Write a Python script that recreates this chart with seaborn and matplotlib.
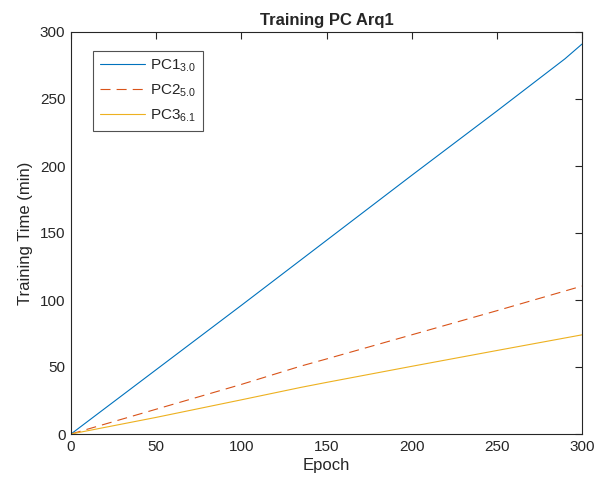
import pandas as pd
import numpy as np
import matplotlib.pyplot as plt
import seaborn as sns

# 数据（从图上读取的折线顶点）
pc1_epoch = [0, 50, 100, 150, 200, 250, 290, 300]
pc1_time = [0, 48, 96, 144.5, 193, 241, 280, 291]

pc2_epoch = [0, 50, 100, 135, 150, 200, 250, 300]
pc2_time = [0, 18.5, 37, 50.7, 56, 74, 92, 110.4]

pc3_epoch = [0, 50, 100, 135, 150, 200, 250, 300]
pc3_time = [0, 12.4, 25.5, 34.8, 38.5, 50.5, 62.3, 74]

labels = [r'PC1$_{3.0}$', r'PC2$_{5.0}$', r'PC3$_{6.1}$']
colors = ['#0072BD', '#D95319', '#EDB120']

sns.set_style('white')
plt.rcParams['font.family'] = ['Liberation Sans', 'DejaVu Sans']
plt.rcParams['mathtext.default'] = 'regular'

fig = plt.figure(figsize=(6.05, 4.86), dpi=100)
ax = fig.add_axes([71/605, 52/486, 511/605, 402/486])

series = [(pc1_epoch, pc1_time), (pc2_epoch, pc2_time), (pc3_epoch, pc3_time)]
styles = ['-', (0, (9, 5.5)), '-']
for (ep, tm), lab, c, ls in zip(series, labels, colors, styles):
    df = pd.DataFrame({'Epoch': ep, 'Time': tm})
    sns.lineplot(data=df, x='Epoch', y='Time', ax=ax, color=c, linewidth=0.8,
                 linestyle=ls, label=lab)

ax.set_xlim(0, 300)
ax.set_ylim(0, 300)
ax.set_xticks(np.arange(0, 301, 50))
ax.set_yticks(np.arange(0, 301, 50))
ax.set_xlabel('Epoch', fontsize=12, color='#262626', labelpad=3)
ax.set_ylabel('Training Time (min)', fontsize=12, color='#262626', labelpad=5)
ax.set_title('Training PC Arq1', fontsize=12, fontweight='bold', pad=5)

for s in ax.spines.values():
    s.set_color('#262626')
    s.set_linewidth(0.8)
ax.tick_params(direction='in', length=5, width=0.8, top=True, right=True,
               labelsize=11, colors='#262626', pad=4)

leg = ax.legend(loc='upper left', bbox_to_anchor=(0.043, 0.953), fontsize=11,
                frameon=True, fancybox=False, edgecolor='#262626',
                handlelength=2.95, borderpad=0.45, labelspacing=0.55,
                handletextpad=0.35, borderaxespad=0)
leg.get_frame().set_linewidth(0.8)

fig.savefig('out.png', dpi=100)
